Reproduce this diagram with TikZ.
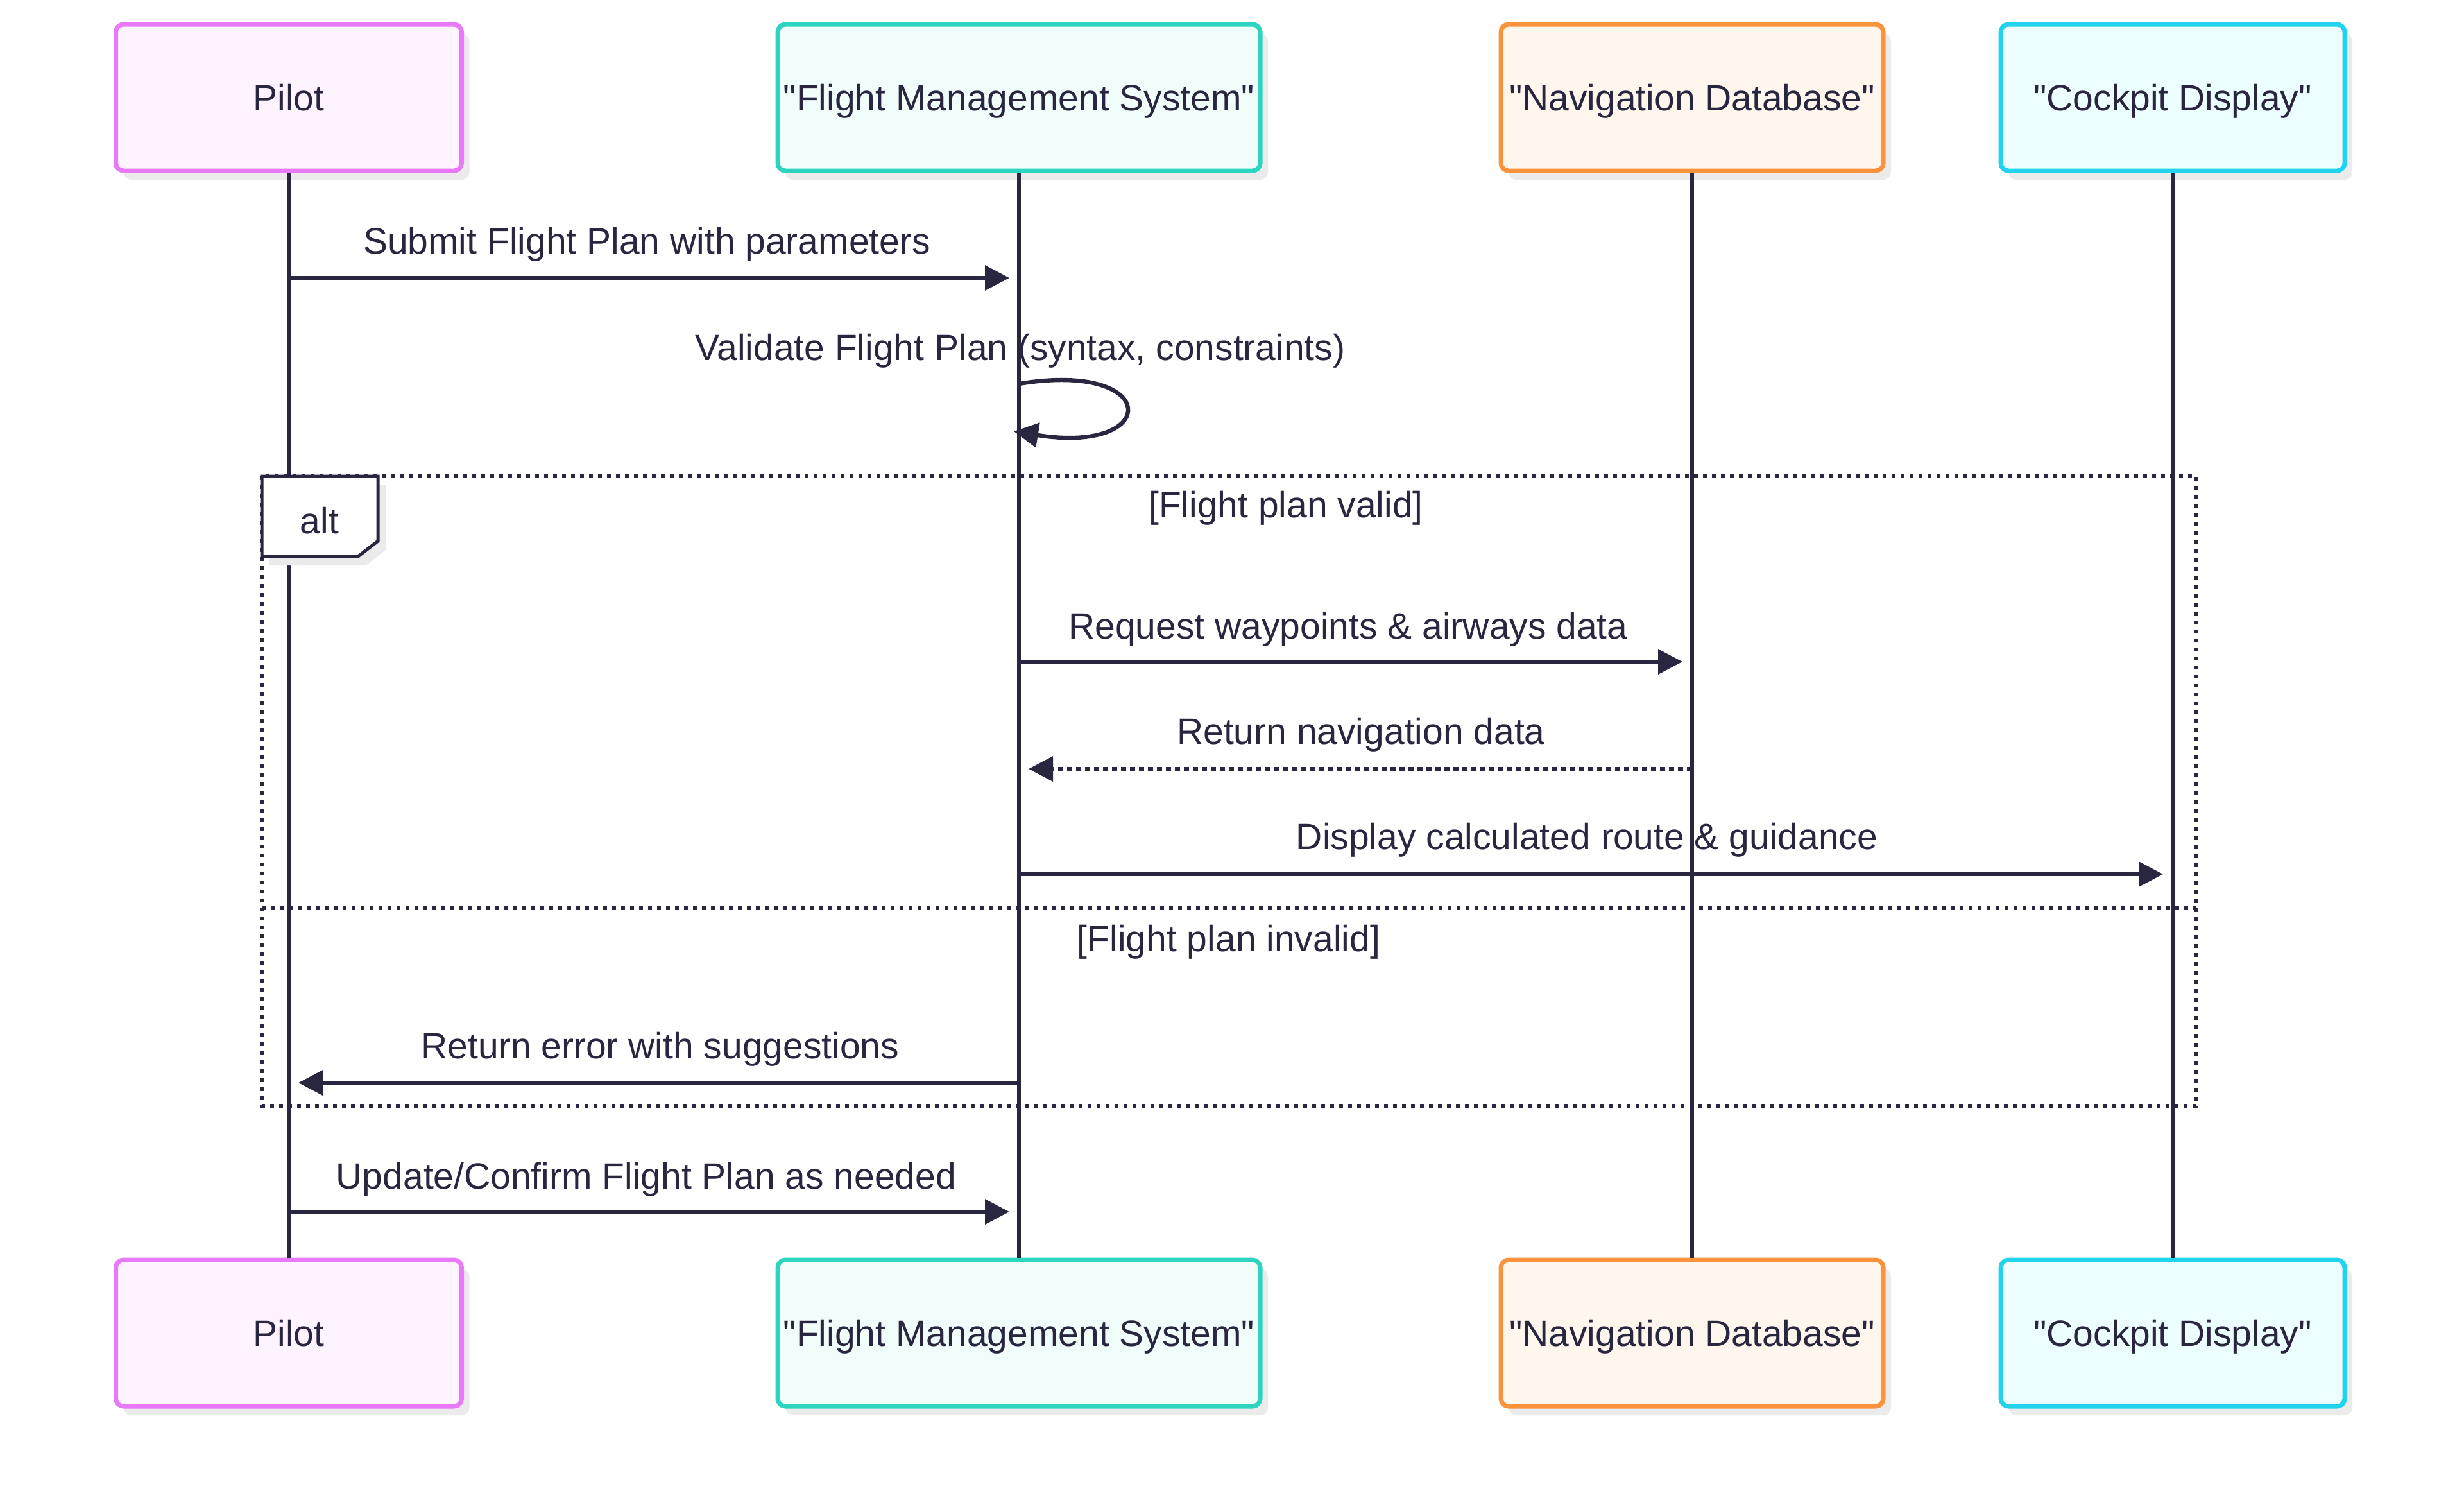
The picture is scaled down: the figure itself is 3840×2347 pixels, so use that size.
\documentclass[tikz,border=0pt]{standalone}
\usepackage{fontspec}
\setmainfont{Liberation Sans}[Ligatures=TeXOff]
\usetikzlibrary{arrows.meta,shadows}
\definecolor{ink}{HTML}{292640}
\definecolor{pilotB}{HTML}{E879F9}\definecolor{pilotF}{HTML}{FDF4FF}
\definecolor{fmsB}{HTML}{2DD4BF}\definecolor{fmsF}{HTML}{F0FDFA}
\definecolor{navB}{HTML}{FB923C}\definecolor{navF}{HTML}{FFF7ED}
\definecolor{cpB}{HTML}{22D3EE}\definecolor{cpF}{HTML}{ECFEFF}
\definecolor{shade}{HTML}{EBEBEB}
\tikzset{
 actorbox/.style={draw, rounded corners=3pt, line width=1.75pt, minimum height=57pt, inner sep=0pt, text=ink,
   text height=10.2pt, text depth=0pt,
   drop shadow={shadow xshift=3pt, shadow yshift=-3.5pt, fill=shade, opacity=1}},
 lifeline/.style={draw=ink, line width=1.4pt},
 msg/.style={draw=ink, line width=1.6pt, -{Triangle[length=9.5pt,width=9.5pt]}, shorten >=3.75pt},
 reply/.style={msg, dash pattern=on 2pt off 1.5pt},
 msglabel/.style={text=ink, inner sep=0pt},
 frameline/.style={draw=ink, line width=1.5pt, dash pattern=on 1.6pt off 1.9pt},
}
\begin{document}
\begin{tikzpicture}[x=0.25pt,y=-0.25pt, font=\fontsize{14.25pt}{17pt}\selectfont]
\useasboundingbox (0,0) rectangle (3840,2347);
% actors (top)
\node[actorbox, fill=pilotF, draw=pilotB, minimum width=134.75pt] (pilotT) at (450,152) {Pilot};
\node[actorbox, fill=fmsF, draw=fmsB, minimum width=188pt] (fmsT) at (1588,152) {"Flight Management System"};
\node[actorbox, fill=navF, draw=navB, minimum width=149pt] (navT) at (2637,152) {"Navigation Database"};
\node[actorbox, fill=cpF, draw=cpB, minimum width=134pt] (cpT) at (3386,152) {"Cockpit Display"};
% actors (bottom)
\node[actorbox, fill=pilotF, draw=pilotB, minimum width=134.75pt] (pilotB) at (450,2077) {Pilot};
\node[actorbox, fill=fmsF, draw=fmsB, minimum width=188pt] (fmsB) at (1588,2077) {"Flight Management System"};
\node[actorbox, fill=navF, draw=navB, minimum width=149pt] (navB) at (2637,2077) {"Navigation Database"};
\node[actorbox, fill=cpF, draw=cpB, minimum width=134pt] (cpB) at (3386,2077) {"Cockpit Display"};
% lifelines
\draw[lifeline] (pilotT.south) -- (pilotB.north);
\draw[lifeline] (fmsT.south) -- (fmsB.north);
\draw[lifeline] (navT.south) -- (navB.north);
\draw[lifeline] (cpT.south) -- (cpB.north);
% alt frame
\coordinate (fTL) at (408,742);
\coordinate (fBR) at (3423,1723);
\coordinate (div) at (0,1415);
\draw[frameline] (fTL) rectangle (fBR);
\draw[frameline] (fTL |- div) -- (fBR |- div);
\path[draw=ink, fill=white, line width=1.25pt, drop shadow={shadow xshift=3pt, shadow yshift=-3.5pt, fill=shade, opacity=1}]
  (408,742) -- (589,742) -- (589,843) -- (558,867) -- (408,867) -- cycle;
\node[msglabel] (altlbl) at (498,811) {alt};
\node[msglabel] (valid) at (2004,792) {[Flight plan valid]};
\node[msglabel] (invalid) at (1915,1468) {[Flight plan invalid]};
% message rows
\coordinate (r1) at (0,433);
\coordinate (r3) at (0,1031);
\coordinate (r4) at (0,1198);
\coordinate (r5) at (0,1362);
\coordinate (r6) at (0,1687);
\coordinate (r7) at (0,1888);
\draw[msg] (pilotT |- r1) -- (fmsT |- r1);
\node[msglabel] (l1) at (1008,381) {Submit Flight Plan with parameters};
\coordinate (loopS) at (1588,598);
\coordinate (loopE) at (1580,672);
\draw[msg, shorten >=0pt] (loopS) .. controls (1810,561) and (1810,709) .. (loopE);
\node[msglabel] (l2) at (1590,547) {Validate Flight Plan (syntax, constraints)};
\draw[msg] (fmsT |- r3) -- (navT |- r3);
\node[msglabel] (l3) at (2101,981) {Request waypoints \& airways data};
\draw[reply] (navT |- r4) -- (fmsT |- r4);
\node[msglabel] (l4) at (2121,1145) {Return navigation data};
\draw[msg] (fmsT |- r5) -- (cpT |- r5);
\node[msglabel] (l5) at (2473,1309) {Display calculated route \& guidance};
\draw[msg] (fmsT |- r6) -- (pilotT |- r6);
\node[msglabel] (l6) at (1029,1635) {Return error with suggestions};
\draw[msg] (pilotT |- r7) -- (fmsT |- r7);
\node[msglabel] (l7) at (1007,1838) {Update/Confirm Flight Plan as needed};
\end{tikzpicture}
\end{document}
